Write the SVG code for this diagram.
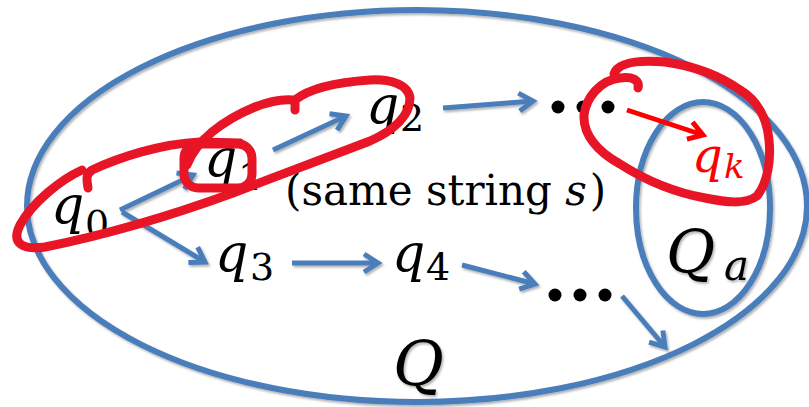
<svg xmlns="http://www.w3.org/2000/svg" width="809" height="407" viewBox="0 0 809 407">
<defs>
<style>
.blue{fill:none;stroke:#4a7ebb;stroke-width:6}
.arr{fill:none;stroke:#4a7ebb;stroke-width:5;marker-end:url(#ab)}
.red{fill:none;stroke:#e81527;stroke-width:9;stroke-linecap:round;stroke-linejoin:round}
text{font-family:'DejaVu Serif',serif}
.m{font-style:italic}
.sub{font-style:normal}
</style>
<filter id="sh" x="-10%" y="-10%" width="120%" height="120%">
<feDropShadow dx="1.5" dy="2" stdDeviation="1.2" flood-color="#000" flood-opacity="0.3"/>
</filter>
<marker id="ab" markerUnits="userSpaceOnUse" markerWidth="24" markerHeight="24" viewBox="0 0 24 24" refX="16" refY="12" orient="auto">
<path d="M2,3 L16,12 L2,21" fill="none" stroke="#4a7ebb" stroke-width="5" stroke-linejoin="miter"/>
</marker>
<marker id="ar" markerUnits="userSpaceOnUse" markerWidth="24" markerHeight="24" viewBox="0 0 24 24" refX="16" refY="12" orient="auto">
<path d="M2,3 L16,12 L2,21" fill="none" stroke="#ff0000" stroke-width="5" stroke-linejoin="miter"/>
</marker>
</defs>
<rect width="809" height="407" fill="#fff"/>

<g id="Q" filter="url(#sh)">
<ellipse class="blue" cx="417" cy="206" rx="390" ry="196"/>
<text class="m" x="393" y="385" font-size="62">Q</text>
</g>
<g id="Qa" filter="url(#sh)">
<ellipse class="blue" cx="703" cy="208" rx="67" ry="106"/>
<text class="m" x="666" y="273" font-size="60">Q<tspan x="724" y="280" font-size="42">a</tspan></text>
</g>

<g id="connectors" filter="url(#sh)">
<path class="arr" d="M120,210 L193,175"/>
<path class="arr" d="M273,150 L346,116"/>
<path class="arr" d="M122,212 L205,262"/>
<path class="arr" d="M292,263 L378,263"/>
<path class="arr" d="M443,108 L533,101"/>
<path class="arr" d="M462,265 L535,284"/>
<path class="arr" d="M622,296 L665,347"/>
</g>

<g id="q0"><text class="m" x="51" y="223" font-size="52">q<tspan class="sub" x="85" y="237" font-size="38">0</tspan></text></g>
<g id="q1"><text class="m" x="204" y="176" font-size="52">q<tspan class="sub" x="238" y="190" font-size="38">1</tspan></text></g>
<g id="q2"><text class="m" x="366" y="123" font-size="52">q<tspan class="sub" x="400" y="131" font-size="38">2</tspan></text></g>
<g id="q3"><text class="m" x="215" y="271" font-size="52">q<tspan class="sub" x="250" y="280" font-size="38">3</tspan></text></g>
<g id="q4"><text class="m" x="392" y="271" font-size="52">q<tspan class="sub" x="426" y="280" font-size="38">4</tspan></text></g>
<g id="dots1"><circle cx="558" cy="107" r="6.5"/><circle cx="583" cy="107" r="6.5"/><circle cx="608" cy="107" r="6.5"/></g>
<g id="dots2"><circle cx="555" cy="295" r="6.5"/><circle cx="580" cy="295" r="6.5"/><circle cx="605" cy="295" r="6.5"/></g>
<g id="label"><text x="285" y="205" font-size="42">(same string <tspan font-style="italic">s</tspan><tspan dx="3">)</tspan></text></g>

<g id="highlight">
<path class="red" d="M88,188 C87,180 85,175 92,170 C120,157 160,144 200,142 L240,143"/>
<path class="red" d="M82,170 C60,180 32,203 20,225 C10,245 25,250 45,247 C100,236 170,216 233,193 C280,175 330,156 370,141 C395,130 410,115 410,98 C408,84 390,79 370,80 C340,82 310,88 295,100 L295,110"/>
<path class="red" d="M293,100 C270,98 237,112 212,132 C200,142 192,152 187,165"/>
<rect class="red" x="184" y="144" width="68" height="44" rx="14"/>
<path class="red" d="M638,88 C640,80 632,76 620,78 C600,80 586,98 584,115 C583,135 598,152 620,164 C645,180 672,192 705,198 C725,202 745,205 757,196 C768,182 771,160 769,140 C767,118 757,100 740,90 C720,76 695,66 665,62 C640,60 618,62 614,74"/>
</g>

<g id="qk">
<path d="M627,110 L703,135" fill="none" stroke="#ff0000" stroke-width="5" marker-end="url(#ar)"/>
<text class="m" x="692" y="172" font-size="48" fill="#ff0000">q<tspan x="724" y="178" font-size="34">k</tspan></text>
</g>
</svg>
